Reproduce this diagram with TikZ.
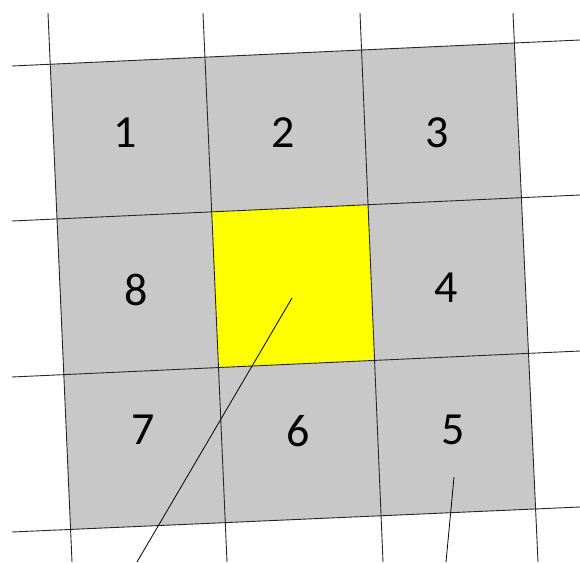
\documentclass[tikz,border=0pt]{standalone}
\usepackage{fontspec}
\setmainfont{Carlito}
\definecolor{cellgray}{RGB}{200,200,200}
\definecolor{centeryellow}{RGB}{255,255,0}
\begin{document}
\begin{tikzpicture}[x=1pt,y=-1pt,
  gridline/.style={draw=black!85, line width=0.9pt},
  graycell/.style={fill=cellgray},
  yellowcell/.style={fill=centeryellow},
  num/.style={font=\fontsize{46}{46}\selectfont, text=black, inner sep=0pt},
  pointer/.style={draw=black, line width=0.8pt}]
\useasboundingbox (0,0) rectangle (580,562);
% grid line end points
\coordinate (vt1) at (48,13);  \coordinate (vb1) at (72,562);
\coordinate (vt2) at (203,13); \coordinate (vb2) at (227,562);
\coordinate (vt3) at (360,13); \coordinate (vb3) at (383,562);
\coordinate (vt4) at (513,13); \coordinate (vb4) at (538,562);
\coordinate (hl1) at (12,66);  \coordinate (hr1) at (580,40);
\coordinate (hl2) at (12,221); \coordinate (hr2) at (580,195);
\coordinate (hl3) at (12,377); \coordinate (hr3) at (580,351);
\coordinate (hl4) at (12,532); \coordinate (hr4) at (580,507);
\coordinate (c11) at (intersection of vt1--vb1 and hl1--hr1);
\coordinate (c12) at (intersection of vt1--vb1 and hl2--hr2);
\coordinate (c13) at (intersection of vt1--vb1 and hl3--hr3);
\coordinate (c14) at (intersection of vt1--vb1 and hl4--hr4);
\coordinate (c21) at (intersection of vt2--vb2 and hl1--hr1);
\coordinate (c22) at (intersection of vt2--vb2 and hl2--hr2);
\coordinate (c23) at (intersection of vt2--vb2 and hl3--hr3);
\coordinate (c24) at (intersection of vt2--vb2 and hl4--hr4);
\coordinate (c31) at (intersection of vt3--vb3 and hl1--hr1);
\coordinate (c32) at (intersection of vt3--vb3 and hl2--hr2);
\coordinate (c33) at (intersection of vt3--vb3 and hl3--hr3);
\coordinate (c34) at (intersection of vt3--vb3 and hl4--hr4);
\coordinate (c41) at (intersection of vt4--vb4 and hl1--hr1);
\coordinate (c42) at (intersection of vt4--vb4 and hl2--hr2);
\coordinate (c43) at (intersection of vt4--vb4 and hl3--hr3);
\coordinate (c44) at (intersection of vt4--vb4 and hl4--hr4);
% cells
\fill[graycell] (c11) -- (c21) -- (c22) -- (c12) -- cycle;
\fill[graycell] (c21) -- (c31) -- (c32) -- (c22) -- cycle;
\fill[graycell] (c31) -- (c41) -- (c42) -- (c32) -- cycle;
\fill[graycell] (c12) -- (c22) -- (c23) -- (c13) -- cycle;
\fill[yellowcell] (c22) -- (c32) -- (c33) -- (c23) -- cycle;
\fill[graycell] (c32) -- (c42) -- (c43) -- (c33) -- cycle;
\fill[graycell] (c13) -- (c23) -- (c24) -- (c14) -- cycle;
\fill[graycell] (c23) -- (c33) -- (c34) -- (c24) -- cycle;
\fill[graycell] (c33) -- (c43) -- (c44) -- (c34) -- cycle;
% grid lines
\draw[gridline] (vt1) -- (vb1);
\draw[gridline] (vt2) -- (vb2);
\draw[gridline] (vt3) -- (vb3);
\draw[gridline] (vt4) -- (vb4);
\draw[gridline] (hl1) -- (hr1);
\draw[gridline] (hl2) -- (hr2);
\draw[gridline] (hl3) -- (hr3);
\draw[gridline] (hl4) -- (hr4);
% numbers
\node[num] (n1) at (125,133) {1};
\node[num] (n2) at (283,133) {2};
\node[num] (n3) at (437,133) {3};
\node[num] (n8) at (136,290) {8};
\node[num] (n4) at (446,288) {4};
\node[num] (n7) at (143,430) {7};
\node[num] (n6) at (298,431) {6};
\node[num] (n5) at (453,430) {5};
% pointer lines
\coordinate (p1s) at (292,298); \coordinate (p1e) at (137,562);
\coordinate (p2s) at (454,477); \coordinate (p2e) at (446,562);
\draw[pointer] (p1s) -- (p1e);
\draw[pointer] (p2s) -- (p2e);
\end{tikzpicture}
\end{document}
